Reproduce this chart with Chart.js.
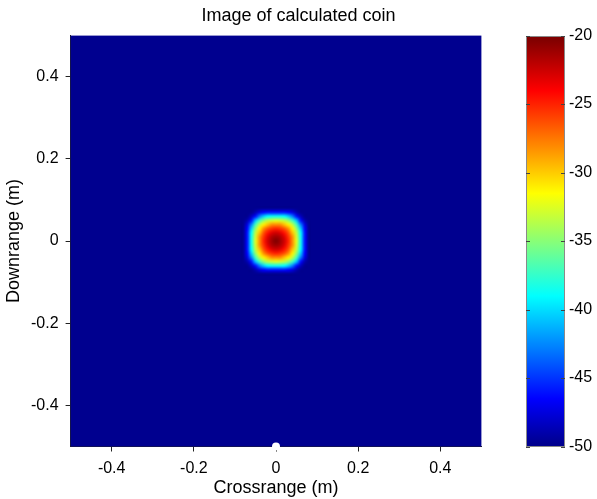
<!DOCTYPE html>
<html>
<head>
<meta charset="utf-8">
<title>Image of calculated coin</title>
<script src="https://cdn.jsdelivr.net/npm/chart.js@4.4.1/dist/chart.umd.min.js"></script>
<style>
  html, body { margin: 0; padding: 0; background: #fff; }
  #wrap { width: 597px; height: 499px; }
</style>
</head>
<body>
<div id="wrap"><canvas id="coinChart" width="597" height="499"></canvas></div>
<script>
// axis limits and tick labels (metres / dB)
const xLimits = [-0.5, 0.5];
const yLimits = [-0.5, 0.5];
const xTicks = [-0.4, -0.2, 0, 0.2, 0.4];
const yTicks = [-0.4, -0.2, 0, 0.2, 0.4];
const cLimits = [-50, -20];
const cTicks = [-50, -45, -40, -35, -30, -25, -20];

// image cells around the coin (dB); the rest of the image sits at the floor
const floorDb = -50;
const cellSize = 0.01;
const cellX = [-0.08, -0.07, -0.06, -0.05, -0.04, -0.03, -0.02, -0.01, 0, 0.01, 0.02, 0.03, 0.04, 0.05, 0.06, 0.07, 0.08];
const cellY = [0.08, 0.07, 0.06, 0.05, 0.04, 0.03, 0.02, 0.01, 0, -0.01, -0.02, -0.03, -0.04, -0.05, -0.06, -0.07, -0.08];
const cellDb = [
  [-50, -50, -50, -50, -50, -50, -50, -50, -50, -50, -50, -50, -50, -50, -50, -50, -50],
  [-50, -50, -50, -49, -47.6, -46.7, -46.2, -46, -46, -46, -46.2, -46.7, -47.6, -49, -50, -50, -50],
  [-50, -50, -48.2, -45.9, -42.6, -40.3, -39, -38.5, -38.5, -38.5, -39, -40.3, -42.6, -45.9, -48.2, -50, -50],
  [-50, -49, -45.9, -40.8, -36.9, -34.7, -33.5, -32.7, -32.5, -32.7, -33.5, -34.7, -36.9, -40.8, -45.9, -49, -50],
  [-50, -47.6, -42.6, -36.9, -33.2, -31, -29.4, -28.4, -28, -28.4, -29.4, -31, -33.2, -36.9, -42.6, -47.6, -50],
  [-50, -46.7, -40.3, -34.7, -31, -28.2, -26.5, -25.3, -24.8, -25.3, -26.5, -28.2, -31, -34.7, -40.3, -46.7, -50],
  [-50, -46.2, -39, -33.5, -29.4, -26.5, -24.4, -23.1, -22.6, -23.1, -24.4, -26.5, -29.4, -33.5, -39, -46.2, -50],
  [-50, -46, -38.5, -32.7, -28.4, -25.3, -23.1, -21.7, -21, -21.7, -23.1, -25.3, -28.4, -32.7, -38.5, -46, -50],
  [-50, -46, -38.5, -32.5, -28, -24.8, -22.6, -21, -20.3, -21, -22.6, -24.8, -28, -32.5, -38.5, -46, -50],
  [-50, -46, -38.5, -32.7, -28.4, -25.3, -23.1, -21.7, -21, -21.7, -23.1, -25.3, -28.4, -32.7, -38.5, -46, -50],
  [-50, -46.2, -39, -33.5, -29.4, -26.5, -24.4, -23.1, -22.6, -23.1, -24.4, -26.5, -29.4, -33.5, -39, -46.2, -50],
  [-50, -46.7, -40.3, -34.7, -31, -28.2, -26.5, -25.3, -24.8, -25.3, -26.5, -28.2, -31, -34.7, -40.3, -46.7, -50],
  [-50, -47.6, -42.6, -36.9, -33.2, -31, -29.4, -28.4, -28, -28.4, -29.4, -31, -33.2, -36.9, -42.6, -47.6, -50],
  [-50, -49, -45.9, -40.8, -36.9, -34.7, -33.5, -32.7, -32.5, -32.7, -33.5, -34.7, -36.9, -40.8, -45.9, -49, -50],
  [-50, -50, -48.2, -45.9, -42.6, -40.3, -39, -38.5, -38.5, -38.5, -39, -40.3, -42.6, -45.9, -48.2, -50, -50],
  [-50, -50, -50, -49, -47.6, -46.7, -46.2, -46, -46, -46, -46.2, -46.7, -47.6, -49, -50, -50, -50],
  [-50, -50, -50, -50, -50, -50, -50, -50, -50, -50, -50, -50, -50, -50, -50, -50, -50]
];

// radar position marker under the scene
const radarX = [0];
const radarY = [-0.5];

const FONT = '"Liberation Sans", Arial, Helvetica, sans-serif';

// matlab style jet colormap
function jetMap(n) {
  const m = Math.ceil(n / 4);
  const u = [];
  for (let i = 1; i <= m; i++) u.push(i / m);
  for (let i = 1; i < m; i++) u.push(1);
  for (let i = m; i >= 1; i--) u.push(i / m);
  const off = Math.ceil(m / 2) - (n % 4 === 1 ? 1 : 0);
  const map = Array.from({ length: n }, () => [0, 0, 0]);
  u.forEach((val, k) => {
    const g = off + k + 1;
    const r = g + m;
    const b = g - m;
    if (r >= 1 && r <= n) map[r - 1][0] = val;
    if (g >= 1 && g <= n) map[g - 1][1] = val;
    if (b >= 1 && b <= n) map[b - 1][2] = val;
  });
  return map.map(c => c.map(v => Math.round(v * 255)));
}
const jet = jetMap(64);

function colorIndex(v) {
  const t = (v - cLimits[0]) / (cLimits[1] - cLimits[0]);
  return Math.min(jet.length - 1, Math.max(0, Math.floor(t * jet.length)));
}
function rgb(c) { return `rgb(${c[0]},${c[1]},${c[2]})`; }

const coinImage = {
  id: 'coinImage',
  beforeDatasetsDraw(chart) {
    const { ctx, scales: { x, y, cbar } } = chart;
    ctx.save();

    // whole image at the floor level
    const x0 = x.getPixelForValue(xLimits[0]);
    const x1 = x.getPixelForValue(xLimits[1]);
    const y0 = y.getPixelForValue(yLimits[1]);
    const y1 = y.getPixelForValue(yLimits[0]);
    ctx.fillStyle = rgb(jet[colorIndex(floorDb)]);
    ctx.fillRect(x0, y0, x1 - x0, y1 - y0);

    // coin cells, one pixel per cell, scaled up smoothly
    const off = document.createElement('canvas');
    off.width = cellX.length;
    off.height = cellY.length;
    const octx = off.getContext('2d');
    const img = octx.createImageData(off.width, off.height);
    cellDb.forEach((row, r) => {
      row.forEach((v, c) => {
        const col = jet[colorIndex(v)];
        const p = (r * off.width + c) * 4;
        img.data[p] = col[0];
        img.data[p + 1] = col[1];
        img.data[p + 2] = col[2];
        img.data[p + 3] = 255;
      });
    });
    octx.putImageData(img, 0, 0);
    const left = x.getPixelForValue(cellX[0] - cellSize / 2);
    const right = x.getPixelForValue(cellX[cellX.length - 1] + cellSize / 2);
    const top = y.getPixelForValue(cellY[0] + cellSize / 2);
    const bottom = y.getPixelForValue(cellY[cellY.length - 1] - cellSize / 2);
    ctx.imageSmoothingEnabled = true;
    ctx.imageSmoothingQuality = 'high';
    ctx.drawImage(off, left, top, right - left, bottom - top);

    // colour bar, band centres blended into one gradient
    const barL = Math.round(cbar.left + 45);
    const barR = Math.round(cbar.left + 84);
    const bt = Math.round(cbar.getPixelForValue(cLimits[1]));
    const bb = Math.round(cbar.getPixelForValue(cLimits[0]));
    const grad = ctx.createLinearGradient(0, bb, 0, bt);
    jet.forEach((col, k) => grad.addColorStop((k + 0.5) / jet.length, rgb(col)));
    ctx.fillStyle = grad;
    ctx.fillRect(barL, bt, barR - barL, bb - bt);
    ctx.strokeStyle = '#8a8a8a';
    ctx.lineWidth = 1;
    ctx.strokeRect(barL + 0.5, bt + 0.5, barR - barL - 1, bb - bt - 1);
    ctx.strokeStyle = '#444';
    cTicks.forEach(v => {
      const py = Math.round(cbar.getPixelForValue(v)) + 0.5;
      ctx.beginPath();
      ctx.moveTo(barL, py); ctx.lineTo(barL + 4, py);
      ctx.moveTo(barR, py); ctx.lineTo(barR - 4, py);
      ctx.stroke();
    });
    ctx.restore();
  }
};

const tickFont = { family: FONT, size: 16 };
const titleFont = { family: FONT, size: 18 };

new Chart(document.getElementById('coinChart'), {
  type: 'scatter',
  data: {
    datasets: [{
      label: 'radar',
      data: radarX.map((v, i) => ({ x: v, y: radarY[i] })),
      pointRadius: 4,
      pointBackgroundColor: '#ffffff',
      pointBorderWidth: 0,
      clip: false
    }]
  },
  options: {
    responsive: false,
    animation: false,
    devicePixelRatio: 1,
    layout: { padding: 0 },
    plugins: {
      legend: { display: false },
      tooltip: { enabled: false },
      title: {
        display: true,
        text: 'Image of calculated coin',
        color: '#000',
        font: { family: FONT, size: 18, weight: 'normal' },
        padding: { top: 5, bottom: 9 }
      }
    },
    scales: {
      x: {
        type: 'linear',
        min: xLimits[0],
        max: xLimits[1],
        afterBuildTicks: s => { s.ticks = xTicks.map(v => ({ value: v })); },
        afterFit: s => { s.height = 52.5; },
        ticks: { color: '#000', font: tickFont, padding: 7, maxRotation: 0, callback: v => String(v) },
        grid: { display: true, drawOnChartArea: false, drawTicks: true, tickLength: 5, color: '#222' },
        border: { display: true, color: '#222' },
        title: { display: true, text: 'Crossrange (m)', color: '#000', font: titleFont, padding: { top: 0, bottom: 0 } }
      },
      y: {
        type: 'linear',
        min: yLimits[0],
        max: yLimits[1],
        afterBuildTicks: s => { s.ticks = yTicks.map(v => ({ value: v })); },
        afterFit: s => { s.width = 70.6; },
        ticks: { color: '#000', font: tickFont, padding: 7, callback: v => String(v) },
        grid: { display: true, drawOnChartArea: false, drawTicks: true, tickLength: 5, color: '#222' },
        border: { display: true, color: '#222' },
        title: { display: true, text: 'Downrange (m)', color: '#000', font: titleFont, padding: { top: 3, bottom: 0 } }
      },
      cbar: {
        type: 'linear',
        position: 'right',
        min: cLimits[0],
        max: cLimits[1],
        afterBuildTicks: s => { s.ticks = cTicks.map(v => ({ value: v })); },
        afterFit: s => { s.width = 597 - 481.4; },
        // labels pushed past the colour bar by an invisible tick length
        ticks: { color: '#000', font: tickFont, padding: 3, callback: v => String(v) },
        grid: { display: false, drawTicks: true, tickLength: 84.6 },
        border: { display: false }
      }
    }
  },
  plugins: [coinImage]
});
</script>
</body>
</html>
